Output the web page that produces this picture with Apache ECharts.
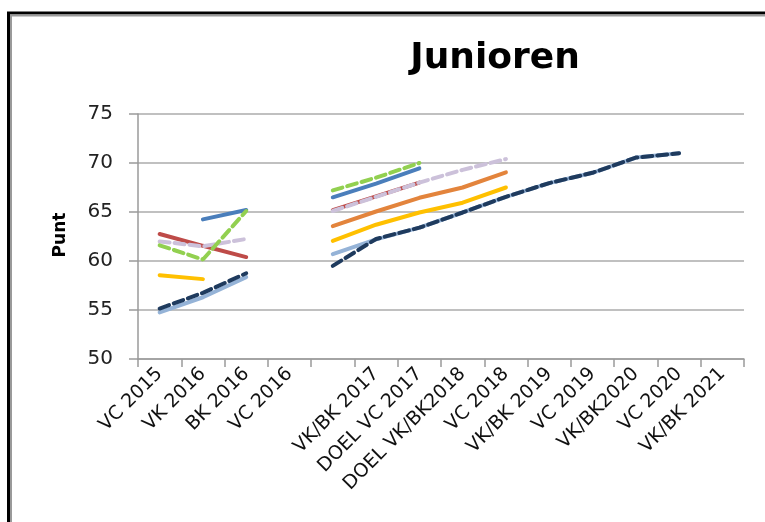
<!DOCTYPE html>
<html>
<head>
<meta charset="utf-8">
<script src="https://cdn.jsdelivr.net/npm/echarts@6/dist/echarts.min.js"></script>
<style>
html,body{margin:0;padding:0;background:#fff;}
#chart{width:765px;height:522px;}
</style>
</head>
<body>
<div id="chart"></div>
<script>
var categories = ['VC 2015','VK 2016','BK 2016','VC 2016','','VK/BK 2017','DOEL VC 2017','DOEL VK/BK2018','VC 2018','VK/BK 2019','VC 2019','VK/BK2020','VC 2020','VK/BK 2021'];
var yTicks = [50, 55, 60, 65, 70, 75];

var lichtblauw = [54.75, 56.3, 58.35, null, 60.7, 62.2, 63.4, 64.95, 66.55, 67.95, 69.0, 70.55, 71.0, null];
var geel       = [58.55, 58.15, null, null, 62.05, 63.7, 64.95, 65.95, 67.5, null, null, null, null, null];
var oranje     = [null, null, null, null, 63.55, 65.05, 66.45, 67.5, 69.05, null, null, null, null, null];
var rood       = [62.75, 61.55, 60.4, null, 65.2, 66.6, 68.0, null, null, null, null, null, null, null];
var blauw      = [null, 64.25, 65.2, null, 66.5, 67.9, 69.45, null, null, null, null, null, null, null];
var lavendel   = [62.0, 61.5, 62.25, null, 65.1, 66.55, 68.0, 69.3, 70.4, null, null, null, null, null];
var groen      = [61.6, 60.15, 65.1, null, 67.2, 68.5, 70.0, null, null, null, null, null, null, null];
var donkerblauw= [55.15, 56.75, 58.75, null, 59.5, 62.25, 63.4, 64.95, 66.55, 67.95, 69.0, 70.55, 71.0, null];

function line(name, data, color, dashed) {
  return {
    name: name, type: 'line', data: data, symbol: 'none', connectNulls: false,
    lineStyle: { color: color, width: 4, type: dashed ? [10, 5] : 'solid', cap: 'round' },
    itemStyle: { color: color },
    emphasis: { disabled: true }
  };
}

var chart = echarts.init(document.getElementById('chart'), null, { renderer: 'canvas' });
chart.setOption({
  animation: false,
  backgroundColor: '#ffffff',
  grid: { left: 138, right: 21, top: 114, bottom: 163, containLabel: false },
  xAxis: {
    type: 'category', data: categories, boundaryGap: true,
    axisLine: { show: true, lineStyle: { color: '#9a9a9a', width: 1.5 } },
    axisTick: { show: true, length: 8, interval: 0, lineStyle: { color: '#9a9a9a', width: 1.5 } },
    axisLabel: { interval: 0, rotate: 45, margin: 12, color: '#111', fontFamily: 'DejaVu Sans', fontSize: 19 },
    splitLine: { show: false }
  },
  yAxis: {
    type: 'value', min: yTicks[0], max: yTicks[yTicks.length - 1], interval: 5,
    axisLine: { show: true, lineStyle: { color: '#9a9a9a', width: 1.5 } },
    axisTick: { show: true, length: 9, lineStyle: { color: '#9a9a9a', width: 1.5 } },
    axisLabel: { margin: 25, color: '#222', fontFamily: 'DejaVu Sans', fontSize: 20 },
    splitLine: { show: true, lineStyle: { color: '#ababab', width: 1.5 } }
  },
  graphic: [
    { type: 'rect', shape: { x: 8.5, y: 13, width: 900, height: 700 }, style: { fill: 'none', stroke: '#000', lineWidth: 3 }, silent: true },
    { type: 'rect', shape: { x: 11, y: 15.5, width: 900, height: 700 }, style: { fill: 'none', stroke: '#9a9a9a', lineWidth: 2 }, silent: true },
    { type: 'text', x: 495, y: 59, style: { text: 'Junioren', textAlign: 'center', textVerticalAlign: 'middle', font: 'bold 36px "DejaVu Sans"', fill: '#000' }, silent: true },
    { type: 'text', x: 60.5, y: 235, rotation: Math.PI / 2, style: { text: 'Punt', textAlign: 'center', textVerticalAlign: 'middle', font: 'bold 17px "DejaVu Sans"', fill: '#000' }, silent: true }
  ],
  series: [
    line('Reeks 1', lichtblauw, '#95B3D7', false),
    line('Reeks 2', geel, '#FFC000', false),
    line('Reeks 3', oranje, '#E3843C', false),
    line('Reeks 4', rood, '#BE4B48', false),
    line('Reeks 5', blauw, '#4A7EBB', false),
    line('Reeks 6', lavendel, '#CCC1DA', true),
    line('Reeks 7', groen, '#92D050', true),
    line('Reeks 8', donkerblauw, '#1F3B5E', true)
  ]
});
</script>
</body>
</html>
